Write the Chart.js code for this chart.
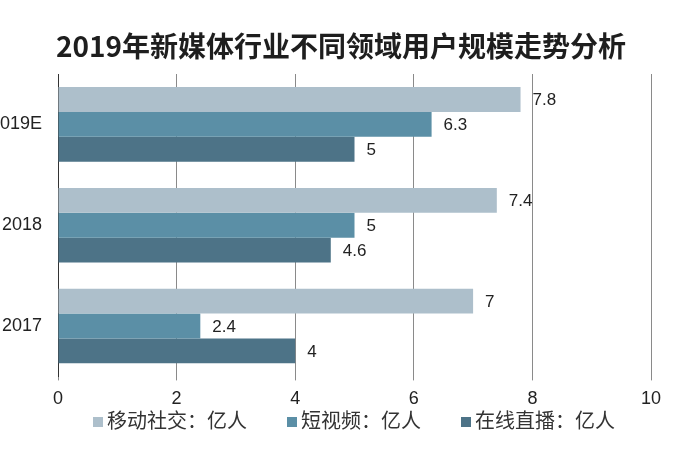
<!DOCTYPE html>
<html>
<head>
<meta charset="utf-8">
<script src="https://cdn.jsdelivr.net/npm/chart.js@4"></script>
<style>
  body { margin: 0; background: #fff; }
  #wrap { position: relative; width: 700px; height: 470px; overflow: hidden; }
  #chart { position: absolute; left: 0; top: 0; }
  #title { position: absolute; left: 56px; top: 29px; font: bold 28px "Noto Sans CJK SC", sans-serif; line-height: 32px; color: #1e1e1e; white-space: nowrap; }
  #legend { position: absolute; left: 93px; top: 406px; display: flex; gap: 40px; font: 20px "Noto Sans CJK SC", sans-serif; line-height: 28px; color: #333; white-space: nowrap; }
  #legend span.box { display: inline-block; width: 10px; height: 10px; margin-right: 4px; vertical-align: 1px; }
</style>
</head>
<body>
<div id="wrap">
  <canvas id="chart" width="700" height="470"></canvas>
  <div id="title">2019年新媒体行业不同领域用户规模走势分析</div>
  <div id="legend"></div>
</div>
<script>
const titleText = "2019年新媒体行业不同领域用户规模走势分析";
const categories = ["2019E", "2018", "2017"];
const seriesNames = ["移动社交：亿人", "短视频：亿人", "在线直播：亿人"];
const mobileSocial = [7.8, 7.4, 7];
const shortVideo = [6.3, 5, 2.4];
const liveStream = [5, 4.6, 4];
const xTicks = [0, 2, 4, 6, 8, 10];
const colors = ["#adbfcb", "#5b8fa6", "#4d7387"];

const values = [mobileSocial, shortVideo, liveStream];

document.getElementById("title").textContent = titleText;
document.getElementById("legend").innerHTML = seriesNames.map((name, i) =>
    `<div><span class="box" style="background:${colors[i]}"></span>${name}</div>`
).join("");

// value labels drawn just past the end of each bar
const barLabels = {
    id: "barLabels",
    afterDatasetsDraw(chart) {
        let ctx = chart.ctx;
        ctx.save();
        ctx.font = '17px "Liberation Sans", Arial, sans-serif';
        ctx.fillStyle = "#222";
        ctx.textAlign = "left";
        ctx.textBaseline = "middle";
        chart.data.datasets.forEach((ds, i) => {
            chart.getDatasetMeta(i).data.forEach((bar, j) => {
                ctx.fillText(String(ds.data[j]), bar.x + 12, bar.y + 1);
            });
        });
        ctx.restore();
    }
};

new Chart(document.getElementById("chart").getContext("2d"), {
    type: "bar",
    data: {
        labels: categories,
        datasets: seriesNames.map((name, i) => ({
            label: name,
            data: values[i],
            backgroundColor: colors[i],
            borderWidth: 0,
            categoryPercentage: 0.74,
            barPercentage: 1
        }))
    },
    options: {
        indexAxis: "y",
        responsive: false,
        animation: false,
        layout: { padding: { top: 74, right: 49, bottom: 52, left: 0 } },
        plugins: {
            legend: { display: false },
            title: { display: false },
            tooltip: { enabled: false }
        },
        scales: {
            x: {
                min: 0,
                max: 10,
                afterBuildTicks: scale => { scale.ticks = xTicks.map(v => ({ value: v })); },
                grid: { color: "#8a8a8a", lineWidth: 1, tickLength: 4 },
                border: { display: false },
                ticks: { padding: 8, color: "#222", font: { size: 18, family: '"Liberation Sans", Arial, sans-serif' } }
            },
            y: {
                afterFit: scale => { scale.width = 58; },
                grid: { display: false },
                border: { display: true, color: "#333", width: 1 },
                ticks: { padding: 8, color: "#222", font: { size: 18, family: '"Liberation Sans", Arial, sans-serif' } }
            }
        }
    },
    plugins: [barLabels]
});
</script>
</body>
</html>
